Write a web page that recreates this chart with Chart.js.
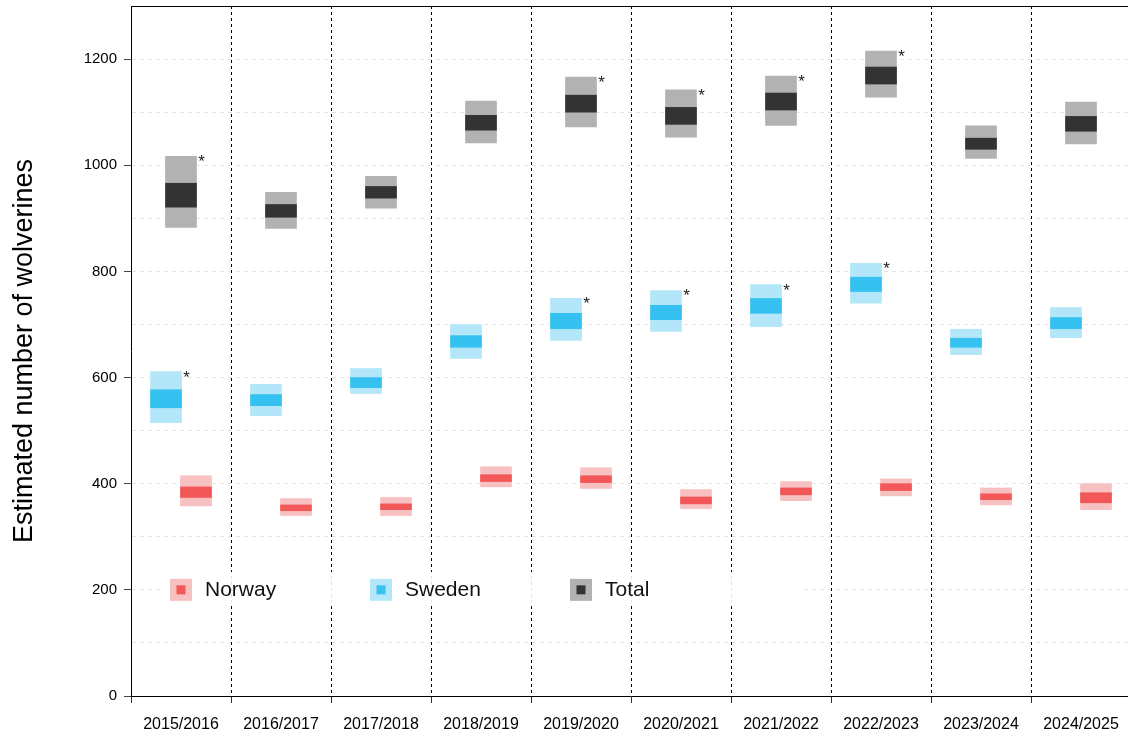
<!DOCTYPE html>
<html>
<head>
<meta charset="utf-8">
<script src="https://cdn.jsdelivr.net/npm/chart.js@4"></script>
<style>
  html, body { margin: 0; padding: 0; background: #fff; overflow: hidden; }
</style>
</head>
<body>
<canvas id="wolverineChart" width="1131" height="735"></canvas>
<script>
// seasons on the x axis
const seasons = ['2015/2016', '2016/2017', '2017/2018', '2018/2019', '2019/2020',
                 '2020/2021', '2021/2022', '2022/2023', '2023/2024', '2024/2025'];

// Norway: wide interval (outer) and narrow interval (inner)
const norwayOuterLo = [358, 340, 340, 394, 391, 353, 368, 377, 360, 351];
const norwayOuterHi = [415, 372, 374, 432, 430, 389, 404, 409, 392, 400];
const norwayInnerLo = [374, 349, 351, 404, 402, 362, 379, 387, 370, 364];
const norwayInnerHi = [394, 360, 362, 417, 415, 375, 392, 400, 381, 383];

// Sweden
const swedenOuterLo = [515, 528, 570, 636, 670, 687, 696, 740, 643, 675];
const swedenOuterHi = [611, 587, 617, 700, 749, 764, 775, 815, 691, 732];
const swedenInnerLo = [543, 547, 581, 657, 692, 709, 721, 762, 657, 692];
const swedenInnerHi = [577, 568, 600, 679, 721, 736, 749, 789, 674, 713];

// Total
const totalOuterLo = [883, 881, 919, 1042, 1072, 1053, 1075, 1128, 1013, 1040];
const totalOuterHi = [1017, 949, 979, 1121, 1166, 1142, 1168, 1215, 1074, 1119];
const totalInnerLo = [921, 902, 938, 1066, 1100, 1077, 1104, 1153, 1030, 1064];
const totalInnerHi = [966, 926, 960, 1094, 1132, 1109, 1136, 1185, 1051, 1092];

// seasons marked with an asterisk
const swedenStar = [1, 0, 0, 0, 1, 1, 1, 1, 0, 0];
const totalStar  = [1, 0, 0, 0, 1, 1, 1, 1, 0, 0];

const FONT = "'Liberation Sans', Arial, Helvetica, sans-serif";

const series = [
    { name: 'Norway', shift: 0.15,  light: 'rgb(248,193,193)', dark: 'rgb(242,88,88)',
      outer: [norwayOuterLo, norwayOuterHi], inner: [norwayInnerLo, norwayInnerHi], star: null },
    { name: 'Sweden', shift: -0.15, light: 'rgb(179,230,248)', dark: 'rgb(54,194,241)',
      outer: [swedenOuterLo, swedenOuterHi], inner: [swedenInnerLo, swedenInnerHi], star: swedenStar },
    { name: 'Total',  shift: 0,     light: 'rgb(178,178,178)', dark: 'rgb(51,51,51)',
      outer: [totalOuterLo, totalOuterHi], inner: [totalInnerLo, totalInnerHi], star: totalStar }
];

function boxData(lo, hi, shift) {
    return seasons.map((s, i) => ({ x: i + shift, y: [lo[i], hi[i]] }));
}

const datasets = [];
series.forEach(s => {
    datasets.push({
        label: s.name + ' outer',
        data: boxData(s.outer[0], s.outer[1], s.shift),
        backgroundColor: s.light,
        order: 2
    });
    datasets.push({
        label: s.name,
        data: boxData(s.inner[0], s.inner[1], s.shift),
        backgroundColor: s.dark,
        order: 1
    });
});

// dashed separators between seasons, top frame line
const frame = {
    id: 'frame',
    beforeDatasetsDraw(chart) {
        const { ctx, chartArea: a, scales: { x } } = chart;
        ctx.save();
        ctx.strokeStyle = '#000';
        ctx.lineWidth = 1;
        ctx.setLineDash([3, 3]);
        for (let i = 0; i < seasons.length - 1; i++) {
            const px = Math.round(x.getPixelForValue(i + 0.5)) + 0.5;
            ctx.beginPath();
            ctx.moveTo(px, a.top);
            ctx.lineTo(px, a.bottom);
            ctx.stroke();
        }
        ctx.setLineDash([]);
        ctx.beginPath();
        ctx.moveTo(a.left, a.top + 0.5);
        ctx.lineTo(a.right, a.top + 0.5);
        ctx.stroke();
        ctx.restore();
    }
};

// asterisks and the legend inside the plot
const marks = {
    id: 'marks',
    afterDatasetsDraw(chart) {
        const { ctx, scales: { x, y } } = chart;
        ctx.save();

        ctx.fillStyle = '#222';
        ctx.font = '17px ' + FONT;
        ctx.textAlign = 'center';
        ctx.textBaseline = 'alphabetic';
        series.forEach((s, k) => {
            if (!s.star) return;
            const meta = chart.getDatasetMeta(k * 2);
            s.star.forEach((flag, i) => {
                if (!flag) return;
                const bar = meta.data[i];
                const top = Math.min(bar.y, bar.base);
                ctx.fillText('*', bar.x + bar.width / 2 + 5, top + 11);
            });
        });

        // legend box
        const ly = y.getPixelForValue(200);
        const x0 = x.getPixelForValue(0);
        const x1 = x.getPixelForValue(6.2);
        ctx.fillStyle = 'rgba(255,255,255,0.88)';
        ctx.fillRect(x0 - 21, ly - 18, x1 - x0 + 21, 34);

        ctx.font = '21px ' + FONT;
        ctx.textAlign = 'left';
        ctx.textBaseline = 'middle';
        series.forEach((s, k) => {
            const cx = Math.round(x.getPixelForValue(k * 2));
            ctx.fillStyle = s.light;
            ctx.fillRect(cx - 11, ly - 11, 22, 22);
            ctx.fillStyle = s.dark;
            ctx.fillRect(cx - 4.5, ly - 4.5, 9, 9);
            ctx.fillStyle = '#111';
            ctx.fillText(s.name, cx + 24, ly);
        });
        ctx.restore();
    }
};

const chart = new Chart(document.getElementById('wolverineChart'), {
    type: 'bar',
    data: { datasets: datasets },
    options: {
        responsive: false,
        animation: false,
        layout: { padding: { top: 6, right: 0, bottom: 0, left: 0 } },
        datasets: {
            bar: { grouped: false, barThickness: 31, borderWidth: 0 }
        },
        plugins: {
            legend: { display: false },
            tooltip: { enabled: false }
        },
        scales: {
            x: {
                type: 'linear',
                min: -0.5,
                max: 9.5,
                offset: false,
                afterBuildTicks: scale => {
                    scale.ticks = seasons.map((s, i) => ({ value: i }));
                },
                afterFit: scale => {
                    scale.height = 39;
                    scale.paddingLeft = 0;
                    scale.paddingRight = 0;
                },
                ticks: {
                    autoSkip: false,
                    maxRotation: 0,
                    padding: 12,
                    color: '#000',
                    font: { family: FONT, size: 16 },
                    callback: v => seasons[v]
                },
                grid: {
                    drawOnChartArea: false,
                    tickLength: 7,
                    tickColor: '#333'
                },
                border: { color: '#000', width: 1 }
            },
            y: {
                min: 0,
                max: 1300,
                afterFit: scale => {
                    scale.width = 131;
                    scale.paddingTop = 0;
                    scale.paddingBottom = 0;
                },
                ticks: {
                    stepSize: 100,
                    padding: 7,
                    color: '#000',
                    font: { family: FONT, size: 15 },
                    callback: v => (v % 200 === 0 ? v : '')
                },
                grid: {
                    tickLength: 7,
                    color: ctx => (ctx.tick && ctx.tick.value > 0 && ctx.tick.value < 1300) ? '#e4e4e4' : 'transparent',
                    tickColor: ctx => (ctx.tick && ctx.tick.value % 200 === 0 && ctx.tick.value < 1300) ? '#444' : 'transparent'
                },
                border: { color: '#000', width: 1, dash: [4, 4] },
                title: {
                    display: true,
                    text: 'Estimated number of wolverines',
                    color: '#000',
                    font: { family: FONT, size: 27 },
                    padding: { top: 8, bottom: 0 }
                }
            }
        }
    },
    plugins: [frame, marks]
});
</script>
</body>
</html>
